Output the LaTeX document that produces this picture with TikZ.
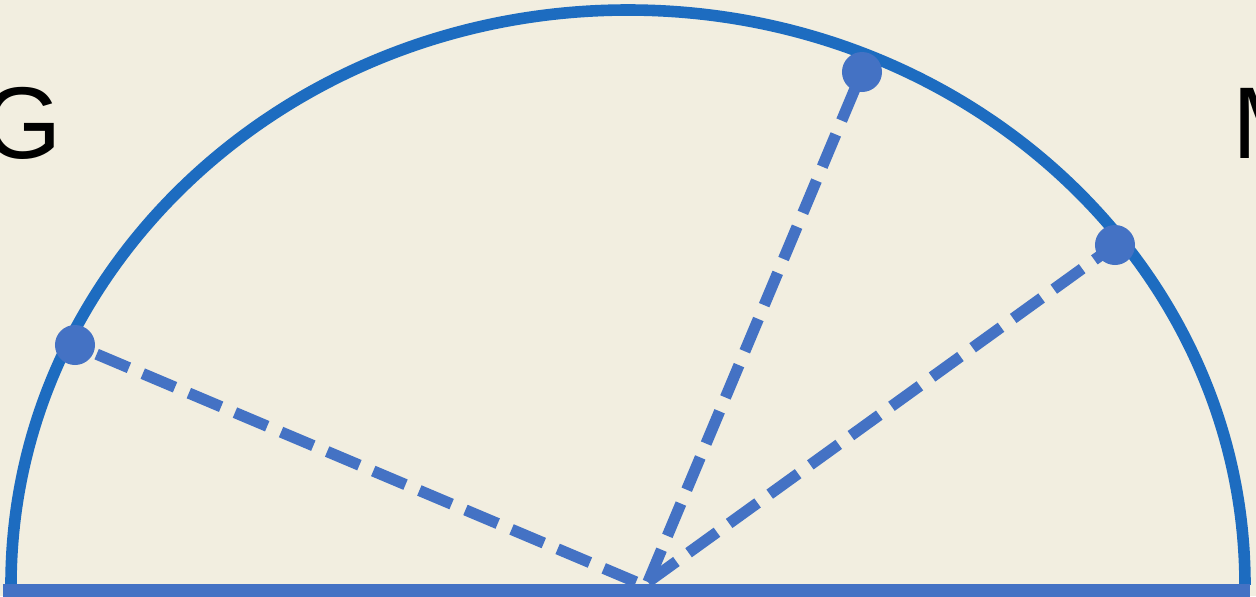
\documentclass[tikz,border=0pt]{standalone}
\usepackage{fontspec}
\setmainfont{Liberation Sans}
\definecolor{bg}{HTML}{F2EEE0}
\definecolor{arcblue}{HTML}{1D6CC0}
\definecolor{lineblue}{HTML}{4472C4}
\begin{document}
\begin{tikzpicture}[x=0.01cm,y=0.01cm,
  arcline/.style={draw=arcblue,line width=3.3pt},
  baseline/.style={draw=lineblue,line width=3.7pt},
  radius line/.style={draw=lineblue,line width=3.2pt,dash pattern=on 9.96pt off 4.27pt},
  dot/.style={circle,fill=lineblue,minimum size=0.4cm,inner sep=0pt},
  letter/.style={anchor=base west,inner sep=0pt,font=\fontsize{29}{34}\selectfont}]
\useasboundingbox (0,0) rectangle (1256,-596);
\fill[bg] (0,0) rectangle (1256,-596);
\clip (0,0) rectangle (1256,-596);
% semicircle
\draw[arcline] (11,-585) arc[start angle=180,end angle=0,x radius=617,y radius=575];
% base
\coordinate (bl) at (3,-590);
\coordinate (br) at (1250,-590);
\draw[baseline] (bl) -- (br);
% centre points
\coordinate (c1) at (636,-582);
\coordinate (c2) at (648,-582);
% dots
\node[dot] (p1) at (75,-345) {};
\node[dot] (p2) at (862,-72) {};
\node[dot] (p3) at (1115,-245) {};
\draw[radius line] (c1) -- (p1.center);
\draw[radius line] (c2) -- (p2.center);
\draw[radius line] (c2) -- (p3.center);
% letters
\node[letter] (g) at (-18,-158) {G};
\node[letter] (m) at (1232,-158) {M};
\end{tikzpicture}
\end{document}
